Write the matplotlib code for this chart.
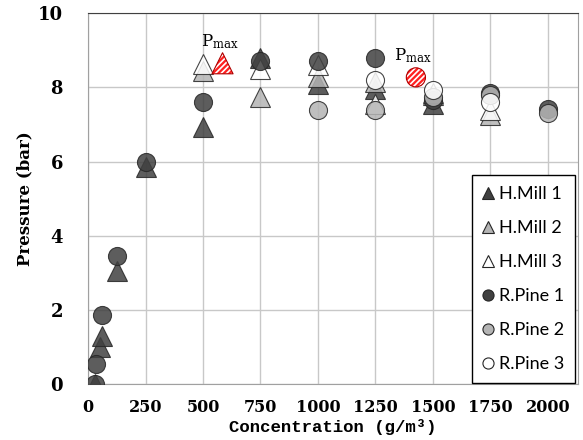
import matplotlib
matplotlib.use("Agg")
import matplotlib.pyplot as plt
from matplotlib.lines import Line2D

# ---- data ----
hmill1_x = [30, 50, 60, 125, 250, 500, 750, 1000, 1250, 1500]
hmill1_y = [0.0, 1.0, 1.3, 3.05, 5.85, 6.93, 8.78, 8.1, 7.95, 7.55]
hmill2_x = [500, 750, 1000, 1250, 1500, 1750]
hmill2_y = [8.45, 7.75, 8.28, 8.15, 7.8, 7.25]
hmill3_x = [500, 750, 1000, 1250, 1500, 1750]
hmill3_y = [8.62, 8.5, 8.6, 7.55, 7.85, 7.4]
rpine1_x = [30, 35, 60, 125, 250, 500, 750, 1000, 1250, 1500, 1750, 2000]
rpine1_y = [0.0, 0.55, 1.85, 3.45, 6.0, 7.6, 8.7, 8.7, 8.8, 7.65, 7.85, 7.42]
rpine2_x = [1000, 1250, 1500, 1750, 2000]
rpine2_y = [7.38, 7.38, 7.75, 7.8, 7.32]
rpine3_x = [1250, 1500, 1750]
rpine3_y = [8.19, 7.92, 7.6]
pmax_tri_x = [585]
pmax_tri_y = [8.65]
pmax_circ_x = [1426]
pmax_circ_y = [8.27]
x_ticks = [0, 250, 500, 750, 1000, 1250, 1500, 1750, 2000]
y_ticks = [0, 2, 4, 6, 8, 10]

series = [
    ("H.Mill 1", hmill1_x, hmill1_y, "^", "#404040"),
    ("H.Mill 2", hmill2_x, hmill2_y, "^", "#b4b4b4"),
    ("H.Mill 3", hmill3_x, hmill3_y, "^", "#ffffff"),
    ("R.Pine 1", rpine1_x, rpine1_y, "o", "#404040"),
    ("R.Pine 2", rpine2_x, rpine2_y, "o", "#b4b4b4"),
    ("R.Pine 3", rpine3_x, rpine3_y, "o", "#ffffff"),
]

fig = plt.figure(figsize=(5.83, 4.40), dpi=100)
ax = fig.add_axes([0.151, 0.127, 0.840, 0.843])

for name, xs, ys, mk, fc in series:
    ms = 15 if mk == "^" else 13
    ax.plot(xs, ys, linestyle="none", marker=mk, markersize=ms,
            markerfacecolor=fc, markeredgecolor="#262626",
            markeredgewidth=0.8, alpha=0.85, zorder=3)

# Pmax hatched markers
plt.rcParams['hatch.linewidth'] = 1.2
for xs, ys, mk, s in [(pmax_tri_x, pmax_tri_y, "^", 230), (pmax_circ_x, pmax_circ_y, "o", 190)]:
    ax.scatter(xs, ys, marker=mk, s=s, facecolor="#ff2020", edgecolor="white",
               hatch="//////", linewidths=0, zorder=4)
    ax.scatter(xs, ys, marker=mk, s=s, facecolor="none", edgecolor="#b00000",
               linewidths=0.8, zorder=5)
    ax.annotate(r"$\mathregular{P_{max}}$", (xs[0], ys[0]), xytext=(-2, 9),
                textcoords="offset points", ha="center", va="bottom",
                fontsize=12, family="DejaVu Serif")

ax.set_xlim(0, 2130)
ax.set_ylim(0, 10)
ax.set_xticks(x_ticks)
ax.set_yticks(y_ticks)
ax.grid(True, color="#c8c8c8", linewidth=1.0, zorder=0)
ax.set_axisbelow(True)
ax.tick_params(axis="x", length=0, pad=11)
ax.tick_params(axis="y", length=0, pad=18)
for lab in ax.get_xticklabels():
    lab.set_family("DejaVu Serif")
    lab.set_fontsize(11.5)
    lab.set_fontweight("bold")
for lab in ax.get_yticklabels():
    lab.set_family("DejaVu Serif")
    lab.set_fontsize(13)
    lab.set_fontweight("bold")

for side in ["left", "right", "bottom"]:
    ax.spines[side].set_color("#a0a0a0")
ax.spines["top"].set_color("#404040")

ax.set_ylabel("Pressure (bar)", family="DejaVu Serif", fontweight="bold",
              fontsize=12, labelpad=3)
ax.set_xlabel("Concentration (g/m\u00b3)", family="Liberation Mono",
              fontweight="bold", fontsize=12.5, labelpad=2)

handles = [Line2D([], [], linestyle="none", marker=mk, markersize=8,
                  markerfacecolor=fc, markeredgecolor="#262626",
                  markeredgewidth=0.8) for _, _, _, mk, fc in series]
labels = [s[0] for s in series]
leg = ax.legend(handles, labels, loc="lower right", bbox_to_anchor=(0.994, 0.003),
                frameon=True, fancybox=False, edgecolor="black", framealpha=1,
                prop={"family": "Lato", "size": 13}, labelspacing=1.0,
                handlelength=0.6, handletextpad=0.3, borderpad=0.6,
                borderaxespad=0)
leg.get_frame().set_linewidth(1.0)

fig.savefig("out.png", dpi=100)
